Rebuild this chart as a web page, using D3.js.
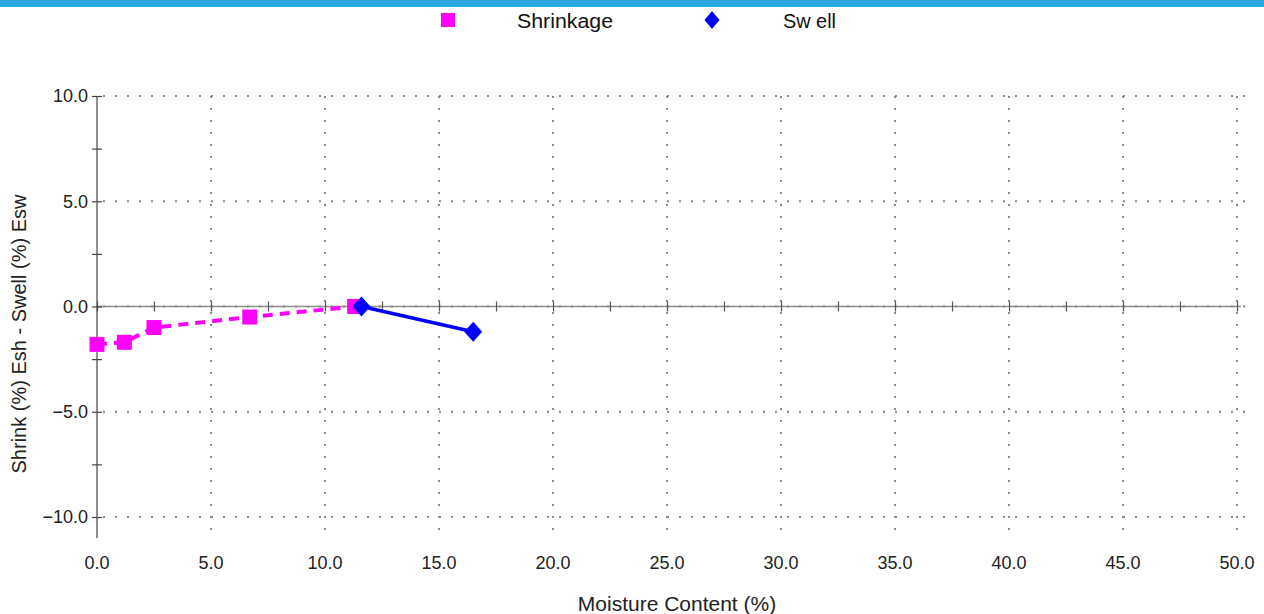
<!DOCTYPE html>
<html>
<head>
<meta charset="utf-8">
<script src="https://cdn.jsdelivr.net/npm/d3@7"></script>
<style>
  html, body { margin: 0; padding: 0; background: #fff; }
  svg { display: block; font-family: "Liberation Sans", Arial, sans-serif; }
</style>
</head>
<body>
<svg id="chart" width="1264" height="614"></svg>
<script>
// Shrinkage and swell test results
const shrinkMoisture = [0.0, 1.2, 2.5, 6.7, 11.3];
const shrinkStrain   = [-1.8, -1.7, -1.0, -0.5, 0.0];
const swellMoisture  = [11.6, 16.5];
const swellStrain    = [0.0, -1.2];

const xTicks = [0, 5, 10, 15, 20, 25, 30, 35, 40, 45, 50];
const yTicks = [10, 5, 0, -5, -10];
const xMinorTicks = d3.range(0, 50.01, 2.5);
const yMinorTicks = d3.range(-10, 10.01, 2.5);

const seriesNames = ["Shrinkage", "Sw ell"];

const svg = d3.select("#chart");

// top banner
svg.append("rect").attr("x", 0).attr("y", 0).attr("width", 1264).attr("height", 7).attr("fill", "#2ca8e1");

const x = d3.scaleLinear().domain([0, 50]).range([97, 1237]);
const y = d3.scaleLinear().domain([-10, 10]).range([517, 96]);
const yBottom = 538;

// dotted grid
const grid = svg.append("g").attr("stroke", "#8a8a8a").attr("stroke-width", 2).attr("stroke-dasharray", "2,10");
grid.selectAll("line.h").data(yTicks).join("line")
  .attr("x1", x(0) + 6).attr("x2", 1252)
  .attr("y1", d => y(d)).attr("y2", d => y(d));
grid.selectAll("line.v").data(xTicks.slice(1)).join("line")
  .attr("x1", d => x(d)).attr("x2", d => x(d))
  .attr("y1", y(10)).attr("y2", yBottom);

// horizontal zero axis with crossing ticks
const xAxisG = svg.append("g").attr("transform", `translate(0,${y(0)})`);
xAxisG.call(d3.axisBottom(x).tickValues(xMinorTicks).tickSize(0).tickFormat(""))
  .call(g => g.select(".domain").attr("stroke", "#8c8c8c").attr("stroke-width", 1.5)
               .attr("d", `M${x(0)},0H${x(50) + 4}`));
xAxisG.selectAll(".tick").append("line").attr("y1", -5).attr("y2", 5).attr("stroke", "#555").attr("stroke-width", 1.2);

// vertical axis with crossing ticks
const yAxisG = svg.append("g").attr("transform", `translate(${x(0)},0)`);
yAxisG.call(d3.axisLeft(y).tickValues(yMinorTicks).tickSize(0).tickFormat(""))
  .call(g => g.select(".domain").attr("stroke", "#444").attr("stroke-width", 1.2)
               .attr("d", `M0,${y(10)}V${yBottom}`));
yAxisG.selectAll(".tick").append("line").attr("x1", -5).attr("x2", 5).attr("stroke", "#444").attr("stroke-width", 1.2);

// tick labels
svg.append("g").selectAll("text").data(yTicks).join("text")
  .attr("x", 88).attr("y", d => y(d)).attr("dy", "0.36em")
  .attr("text-anchor", "end").attr("font-size", 18).attr("fill", "#222")
  .text(d => d3.format(".1f")(d));
svg.append("g").selectAll("text").data(xTicks).join("text")
  .attr("x", d => x(d)).attr("y", 569)
  .attr("text-anchor", "middle").attr("font-size", 18).attr("fill", "#222")
  .text(d => d3.format(".1f")(d));

// axis titles
svg.append("text").attr("x", 677).attr("y", 611).attr("text-anchor", "middle")
  .attr("font-size", 21).attr("fill", "#222").text("Moisture Content (%)");
svg.append("text").attr("transform", "translate(26,334) rotate(-90)").attr("text-anchor", "middle")
  .attr("font-size", 20).attr("fill", "#222").text("Shrink (%) Esh - Swell (%) Esw");

const line = d3.line().x(d => x(d[0])).y(d => y(d[1]));
const shrinkData = d3.zip(shrinkMoisture, shrinkStrain);
const swellData = d3.zip(swellMoisture, swellStrain);

// shrinkage series
svg.append("path").datum(shrinkData).attr("d", line).attr("fill", "none")
  .attr("stroke", "#ff00ff").attr("stroke-width", 4).attr("stroke-dasharray", "10,7");
svg.append("g").selectAll("rect").data(shrinkData).join("rect")
  .attr("x", d => x(d[0]) - 7.5).attr("y", d => y(d[1]) - 7.5)
  .attr("width", 15).attr("height", 15).attr("fill", "#ff00ff");

// swell series
const diamond = (w, h) => `M0,${-h / 2}L${w / 2},0L0,${h / 2}L${-w / 2},0Z`;
svg.append("path").datum(swellData).attr("d", line).attr("fill", "none")
  .attr("stroke", "#0000ff").attr("stroke-width", 3.5);
svg.append("g").selectAll("path").data(swellData).join("path")
  .attr("transform", d => `translate(${x(d[0])},${y(d[1])})`)
  .attr("d", diamond(18, 20)).attr("fill", "#0000ff");

// legend
const legend = svg.append("g").attr("font-size", 20).attr("fill", "#111");
legend.append("rect").attr("x", 441).attr("y", 13).attr("width", 14).attr("height", 14).attr("fill", "#ff00ff");
legend.append("text").attr("x", 517).attr("y", 21).attr("dy", "0.36em")
  .attr("textLength", 96).attr("lengthAdjust", "spacingAndGlyphs").text(seriesNames[0]);
legend.append("path").attr("transform", "translate(712,20)").attr("d", diamond(15, 18)).attr("fill", "#0000ff");
legend.append("text").attr("x", 783).attr("y", 21).attr("dy", "0.36em")
  .attr("textLength", 53).attr("lengthAdjust", "spacingAndGlyphs").text(seriesNames[1]);
</script>
</body>
</html>
